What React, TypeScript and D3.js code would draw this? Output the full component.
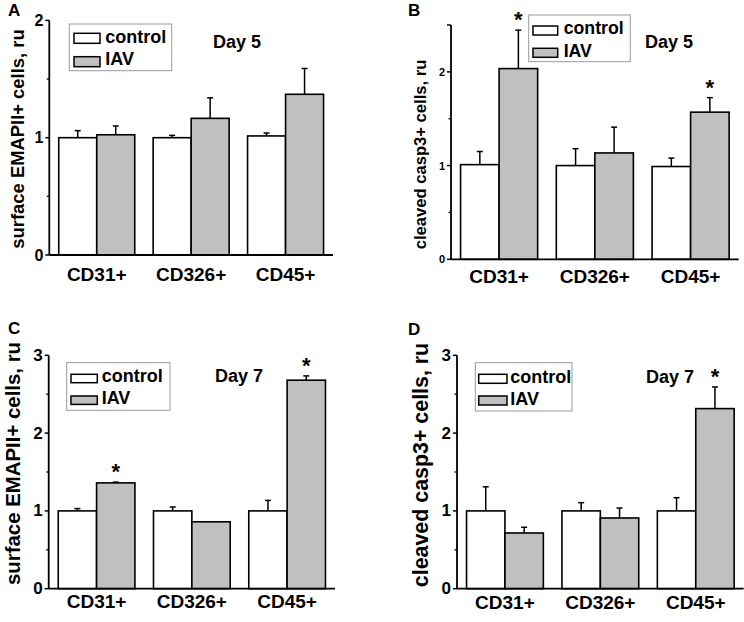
import React from 'react';
import {scaleBand, scaleLinear} from 'd3';

// data
const categories = ['CD31+', 'CD326+', 'CD45+'];
const groups = ['control', 'IAV'];

const aControl = [1.0, 1.0, 1.015];
const aControlErr = [0.06, 0.02, 0.025];
const aIav = [1.025, 1.165, 1.37];
const aIavErr = [0.075, 0.175, 0.22];
const aStars = [false, false, false];

const bControl = [1.01, 1.0, 0.99];
const bControlErr = [0.14, 0.18, 0.09];
const bIav = [2.035, 1.135, 1.57];
const bIavErr = [0.41, 0.275, 0.155];
const bStars = [true, false, true];

const cControl = [1.0, 1.0, 1.0];
const cControlErr = [0.03, 0.05, 0.135];
const cIav = [1.36, 0.86, 2.68];
const cIavErr = [0.01, 0, 0.055];
const cStars = [true, false, true];

const dControl = [1.0, 1.0, 1.0];
const dControlErr = [0.31, 0.106, 0.17];
const dIav = [0.716, 0.909, 2.315];
const dIavErr = [0.074, 0.128, 0.278];
const dStars = [false, false, true];

const FONT = '"Liberation Sans", Arial, sans-serif';
const GRAY = '#c0c0c0';

const panels = [
    {
        letter: 'A', letterX: 8, letterY: 16,
        control: aControl, controlErr: aControlErr, iav: aIav, iavErr: aIavErr, stars: aStars,
        yMax: 2, major: [0, 1, 2], minor: [0.5, 1.5], tickFont: 16,
        left: 49.3, right: 333, zero: 255, top: 20.4, catY: 280.5,
        yLabel: 'surface EMAPII+ cells, ru', yLabelX: 17.5, yLabelY: 139, yLabelFont: 18.4,
        legend: {x0: 69.3, y0: 24, x1: 171.7, y1: 70.7, sx: 74, sw: 26, sh: 10, sy: [33.3, 56.7], tx: 105.3, ty: [42.7, 65], font: 18},
        day: 'Day 5', dayX: 213, dayY: 48.3,
    },
    {
        letter: 'B', letterX: 408, letterY: 16,
        control: bControl, controlErr: bControlErr, iav: bIav, iavErr: bIavErr, stars: bStars,
        yMax: 2.5, major: [0, 1, 2], minor: [0.5, 1.5], extraTop: true, tickFont: 11,
        left: 451, right: 738.7, zero: 259.3, top: 25, catY: 283,
        yLabel: 'cleaved casp3+ cells, ru', yLabelX: 420.5, yLabelY: 154.5, yLabelFont: 16.6,
        legend: {x0: 528.7, y0: 15, x1: 630.3, y1: 61.7, sx: 533, sw: 24.7, sh: 9, sy: [26, 48.3], tx: 563.7, ty: [34.3, 56.7], font: 17.7},
        day: 'Day 5', dayX: 645, dayY: 48.3,
    },
    {
        letter: 'C', letterX: 8, letterY: 334,
        control: cControl, controlErr: cControlErr, iav: cIav, iavErr: cIavErr, stars: cStars,
        yMax: 3, major: [0, 1, 2, 3], minor: [0.5, 1.5, 2.5], tickFont: 17,
        left: 48.7, right: 335, zero: 588.7, top: 355.3, catY: 607.5,
        yLabel: 'surface EMAPII+ cells, ru', yLabelX: 13, yLabelY: 463.5, yLabelFont: 20.4,
        legend: {x0: 66.7, y0: 362.7, x1: 170, y1: 410.3, sx: 71, sw: 26.3, sh: 8.4, sy: [374.3, 396], tx: 101.7, ty: [382, 404.3], font: 18},
        day: 'Day 7', dayX: 215, dayY: 381.7,
    },
    {
        letter: 'D', letterX: 408, letterY: 335,
        control: dControl, controlErr: dControlErr, iav: dIav, iavErr: dIavErr, stars: dStars,
        yMax: 3, major: [0, 1, 2, 3], minor: [0.5, 1.5, 2.5], tickFont: 17,
        left: 457, right: 743.7, zero: 588.7, top: 355.3, catY: 608.5,
        yLabel: 'cleaved casp3+ cells, ru', yLabelX: 421, yLabelY: 465, yLabelFont: 21.4,
        legend: {x0: 475.3, y0: 362.7, x1: 572, y1: 411, sx: 478.7, sw: 28.3, sh: 9, sy: [374.3, 396], tx: 510.3, ty: [382.7, 405.3], font: 18},
        day: 'Day 7', dayX: 646, dayY: 382.7,
    },
];

const Panel = ({p}: {p: any}) => {
    const x = scaleBand<string>()
        .domain(categories)
        .range([p.left, p.right])
        .paddingInner(0.195)
        .paddingOuter(0.1);
    const xg = scaleBand<string>().domain(groups).range([0, x.bandwidth()]);
    const y = scaleLinear().domain([0, p.yMax]).range([p.zero, p.top]);

    const series = [
        {key: 'control', vals: p.control, errs: p.controlErr, fill: '#fff'},
        {key: 'IAV', vals: p.iav, errs: p.iavErr, fill: GRAY},
    ];

    return (
        <g>
            {/* bars + error bars */}
            {series.map(s => categories.map((c, i) => {
                const bx = (x(c) as number) + (xg(s.key) as number);
                const bw = xg.bandwidth();
                const cx = bx + bw / 2;
                const errTop = y(s.vals[i] + s.errs[i]);
                return (
                    <g key={s.key + c}>
                        {s.errs[i] > 0 && (
                            <g stroke="#000" strokeWidth={1.5}>
                                <line x1={cx} x2={cx} y1={y(s.vals[i])} y2={errTop}/>
                                <line x1={cx - 3} x2={cx + 3} y1={errTop} y2={errTop}/>
                            </g>
                        )}
                        <rect x={bx} y={y(s.vals[i])} width={bw} height={p.zero - y(s.vals[i])}
                              fill={s.fill} stroke="#000" strokeWidth={1.6}/>
                        {s.key === 'IAV' && p.stars[i] && (
                            <text x={cx} y={errTop - 3} textAnchor="middle" fontSize={22}
                                  fontWeight="bold" fontFamily={FONT}>*</text>
                        )}
                    </g>
                );
            }))}

            {/* axes */}
            <line x1={p.left} x2={p.left} y1={p.zero} y2={p.top} stroke="#000" strokeWidth={1.8}/>
            <line x1={p.left} x2={p.right} y1={p.zero} y2={p.zero} stroke="#000" strokeWidth={1.8}/>
            {p.major.map((t: number) => (
                <g key={'M' + t}>
                    <line x1={p.left - 4} x2={p.left} y1={y(t)} y2={y(t)} stroke="#000" strokeWidth={1.5}/>
                    <text x={p.left - 6} y={y(t)} textAnchor="end" dominantBaseline="central"
                          fontSize={p.tickFont} fontWeight="bold" fontFamily={FONT}>{t}</text>
                </g>
            ))}
            {p.minor.map((t: number) => (
                <line key={'m' + t} x1={p.left - 2.5} x2={p.left} y1={y(t)} y2={y(t)} stroke="#000" strokeWidth={1.3}/>
            ))}
            {p.extraTop && (
                <line x1={p.left - 4} x2={p.left} y1={y(p.yMax)} y2={y(p.yMax)} stroke="#000" strokeWidth={1.5}/>
            )}
            {categories.map(c => (
                <text key={c} x={(x(c) as number) + x.bandwidth() / 2} y={p.catY} textAnchor="middle"
                      fontSize={19} fontWeight="bold" fontFamily={FONT}>{c}</text>
            ))}

            {/* y label */}
            <text transform={`translate(${p.yLabelX},${p.yLabelY}) rotate(-90)`} textAnchor="middle"
                  dominantBaseline="central" fontSize={p.yLabelFont} fontWeight="bold" fontFamily={FONT}>
                {p.yLabel}
            </text>

            {/* legend */}
            <rect x={p.legend.x0} y={p.legend.y0} width={p.legend.x1 - p.legend.x0} height={p.legend.y1 - p.legend.y0}
                  fill="#fff" stroke="#999" strokeWidth={1}/>
            {series.map((s, i) => (
                <g key={'lg' + s.key}>
                    <rect x={p.legend.sx} y={p.legend.sy[i]} width={p.legend.sw} height={p.legend.sh}
                          fill={s.fill} stroke="#000" strokeWidth={1.5}/>
                    <text x={p.legend.tx} y={p.legend.ty[i]} fontSize={p.legend.font} fontWeight="bold"
                          fontFamily={FONT}>{s.key}</text>
                </g>
            ))}
            <text x={p.dayX} y={p.dayY} fontSize={18} fontWeight="bold" fontFamily={FONT}>{p.day}</text>

            {/* panel letter */}
            <text x={p.letterX} y={p.letterY} fontSize={17} fontWeight="bold" fontFamily={FONT}>{p.letter}</text>
        </g>
    );
};

const App = () => {
    return (
        <svg width={744} height={622} style={{position: 'absolute', left: 0, top: 0, background: '#fff'}}>
            <rect width={744} height={622} fill="#fff"/>
            {panels.map(p => <Panel key={p.letter} p={p}/>)}
        </svg>
    );
};

export default App;
